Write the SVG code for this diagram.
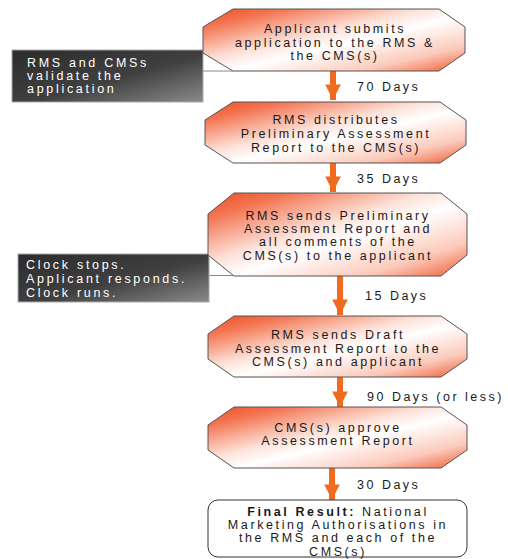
<svg xmlns="http://www.w3.org/2000/svg" width="508" height="559" viewBox="0 0 508 559">
<defs>
  <linearGradient id="og" x1="0" y1="0" x2="1" y2="1">
    <stop offset="0" stop-color="#ee4e26"/>
    <stop offset="0.15" stop-color="#f37450"/>
    <stop offset="0.42" stop-color="#fde2d9"/>
    <stop offset="0.55" stop-color="#ffffff"/>
    <stop offset="0.8" stop-color="#fbcabb"/>
    <stop offset="1" stop-color="#f05c34"/>
  </linearGradient>
  <linearGradient id="gg" x1="0" y1="0" x2="1" y2="1">
    <stop offset="0" stop-color="#2c2c2c"/>
    <stop offset="0.55" stop-color="#404040"/>
    <stop offset="1" stop-color="#8a8a8a"/>
  </linearGradient>
  <marker id="ah" viewBox="0 0 10 10" refX="10" refY="5" markerWidth="2.6" markerHeight="2.6" orient="auto" markerUnits="strokeWidth">
    <path d="M0,0 L10,5 L0,10 Z" fill="#f26a1f"/>
  </marker>
</defs>
<style>
  .oct { fill: url(#og); stroke: #555; stroke-width: 1; }
  .gray { fill: url(#gg); stroke: #aaa; stroke-width: 1; }
  .t { font-family: "Liberation Sans", Arial, sans-serif; font-size: 12.5px; letter-spacing: 2.6px; fill: #1a1a1a; text-anchor: middle; }
  .w { font-family: "Liberation Sans", Arial, sans-serif; font-size: 12.5px; letter-spacing: 2.7px; fill: #ffffff; }
  .lbl { font-family: "Liberation Sans", Arial, sans-serif; font-size: 12.5px; letter-spacing: 2.5px; fill: #1a1a1a; }
  .arr { stroke: #f26a1f; stroke-width: 6; fill: none; }
  .ln { stroke: #888; stroke-width: 1; fill: none; }
</style>

<g id="connectors">
  <line class="arr" x1="333" y1="71" x2="333" y2="100" marker-end="url(#ah)"/>
  <line class="arr" x1="333" y1="163" x2="333" y2="192" marker-end="url(#ah)"/>
  <line class="arr" x1="340" y1="276" x2="340" y2="315" marker-end="url(#ah)"/>
  <line class="arr" x1="340" y1="377" x2="340" y2="407" marker-end="url(#ah)"/>
  <line class="arr" x1="332" y1="468" x2="332" y2="500" marker-end="url(#ah)"/>
  <line class="ln" x1="203" y1="71" x2="233" y2="71" stroke="#bbb"/>
  <line class="ln" x1="209" y1="275.5" x2="250" y2="275.5" stroke="#444"/>
  <text class="lbl" x="357" y="91">70 Days</text>
  <text class="lbl" x="357" y="183">35 Days</text>
  <text class="lbl" x="365" y="300">15 Days</text>
  <text class="lbl" x="367" y="401">90 Days (or less)</text>
  <text class="lbl" x="357" y="489">30 Days</text>
</g>

<g id="gray1">
  <rect class="gray" x="12" y="50" width="191" height="52"/>
  <text class="w" x="27" y="67">RMS and CMSs</text>
  <text class="w" x="27" y="80">validate the</text>
  <text class="w" x="27" y="93">application</text>
</g>

<g id="gray2">
  <rect class="gray" x="18" y="254" width="191" height="48"/>
  <text class="w" x="26" y="269">Clock stops.</text>
  <text class="w" x="26" y="283">Applicant responds.</text>
  <text class="w" x="26" y="297">Clock runs.</text>
</g>

<g id="step1">
  <polygon class="oct" points="233,9 439,9 465,27 465,53 439,71 233,71 203,53 203,27"/>
  <text class="t" x="335" y="33">Applicant submits</text>
  <text class="t" x="335" y="47">application to the RMS &amp;</text>
  <text class="t" x="335" y="60">the CMS(s)</text>
</g>

<g id="step2">
  <polygon class="oct" points="233,102 440,102 466,120 466,145 440,163 233,163 205,145 205,120"/>
  <text class="t" x="336" y="124">RMS distributes</text>
  <text class="t" x="336" y="138">Preliminary Assessment</text>
  <text class="t" x="336" y="152">Report to the CMS(s)</text>
</g>

<g id="step3">
  <polygon class="oct" points="234,193 441,193 467,214 467,255 441,276 234,276 208,255 208,214"/>
  <text class="t" x="338" y="220">RMS sends Preliminary</text>
  <text class="t" x="338" y="233">Assessment Report and</text>
  <text class="t" x="338" y="246">all comments of the</text>
  <text class="t" x="338" y="260">CMS(s) to the applicant</text>
</g>

<g id="step4">
  <polygon class="oct" points="234,316 441,316 467,334 467,359 441,377 234,377 208,359 208,334"/>
  <text class="t" x="338" y="339">RMS sends Draft</text>
  <text class="t" x="338" y="353">Assessment Report to the</text>
  <text class="t" x="338" y="366">CMS(s) and applicant</text>
</g>

<g id="step5">
  <polygon class="oct" points="234,407 441,407 467,425 467,450 441,468 234,468 208,450 208,425"/>
  <text class="t" x="338" y="432">CMS(s) approve</text>
  <text class="t" x="338" y="445">Assessment Report</text>
</g>

<g id="final">
  <rect x="208" y="500" width="259" height="57" rx="10" ry="10" fill="#ffffff" stroke="#333" stroke-width="1"/>
  <text class="t" x="338" y="516"><tspan font-weight="bold">Final Result:</tspan> National</text>
  <text class="t" x="338" y="529">Marketing Authorisations in</text>
  <text class="t" x="338" y="542">the RMS and each of the</text>
  <text class="t" x="338" y="556">CMS(s)</text>
</g>
</svg>
